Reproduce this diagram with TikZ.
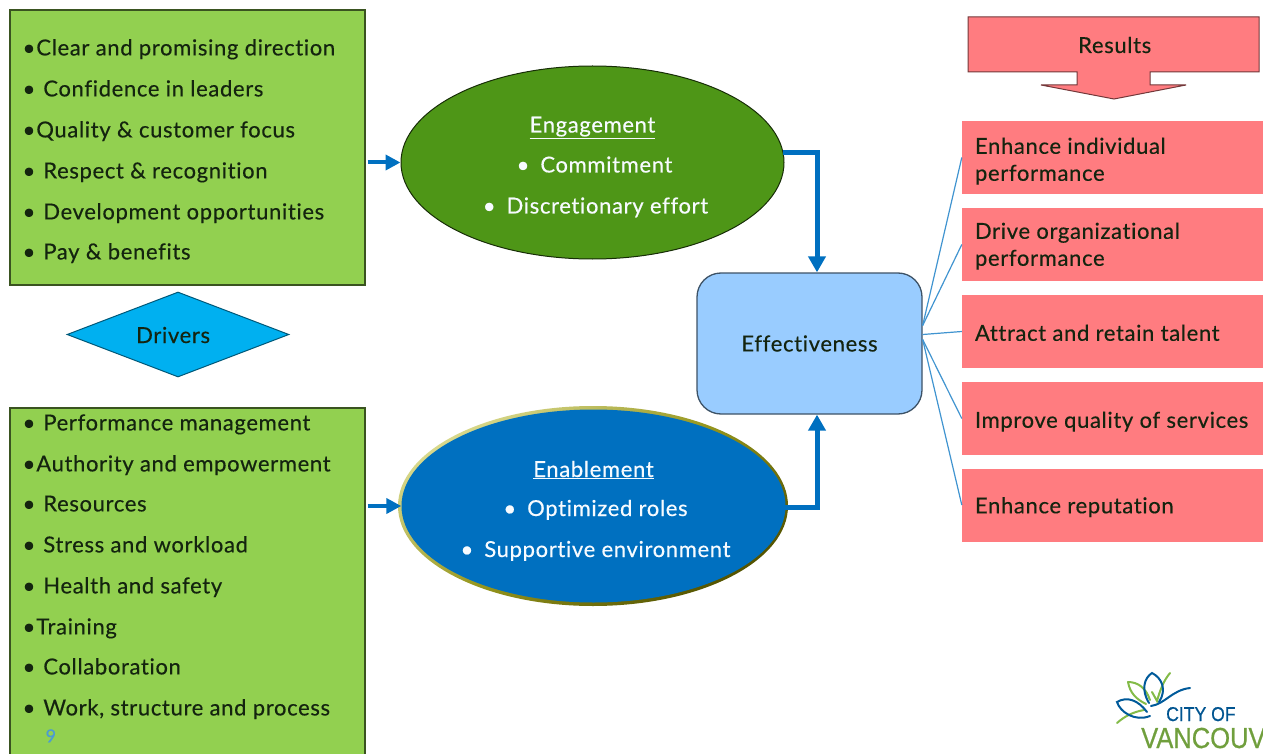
\documentclass[tikz,border=0pt]{standalone}
\usepackage{fontspec}
\setmainfont[LetterSpace=3,FakeBold=0.35,Ligatures=NoCommon]{Lato}
\newfontfamily\logofont[FakeStretch=0.88,FakeBold=0.6]{Liberation Sans}
\usetikzlibrary{arrows.meta,calc,shapes.geometric}
\definecolor{cgreen}{HTML}{92D050}
\definecolor{cred}{HTML}{FF7C80}
\definecolor{cblue}{HTML}{0070C0}
\definecolor{cleaf}{HTML}{4E9617}
\definecolor{csky}{HTML}{99CCFF}
\definecolor{ccyan}{HTML}{00B0F0}
\definecolor{cink}{HTML}{14240F}
\tikzstyle{ng} = [rectangle,draw=black!60!cgreen,fill=cgreen,line width=1.2pt,inner sep=0pt,minimum width=355,text=cink]
\tikzstyle{nr} = [rectangle,fill=cred,inner sep=0pt,minimum width=340,minimum height=73]
\tikzstyle{nt} = [anchor=base west,inner sep=0pt,text=cink,font=\fontsize{22}{26}\selectfont,align=left]
\tikzstyle{nw} = [anchor=base,inner sep=0pt,text=white!92!csky,font=\fontsize{22}{26}\selectfont]
\tikzstyle{ne} = [ellipse,inner sep=0pt,line width=1pt]
\tikzstyle{ar} = [draw=cblue,line width=5pt,-{Triangle[length=16pt,width=17pt]}]
\tikzstyle{lb} = [draw=cblue!75!white,line width=1.2pt]
\tikzstyle{lg} = [draw=black!10!cgreen,line width=2pt,line cap=round]
\tikzstyle{lv} = [draw=cblue!80!black,line width=2pt,line cap=round]
\begin{document}
\begin{tikzpicture}[x=1pt,y=-1pt]
  \useasboundingbox (0,0) rectangle (1263,754);
  \clip (0,0) rectangle (1263,754);
  % drivers
  \node[ng,minimum height=275](top) at (187.5,147.5) {};
  \node[ng,minimum height=352](bot) at (187.5,584) {};
  \node[diamond,draw=black!50!ccyan,fill=ccyan,line width=1pt,inner sep=0pt,minimum width=222,minimum height=85](drv) at (178,334.5) {};
  \node[nt](dl) at ($(drv)+(-42,8.5)$) {Drivers};
  \node[nt](a1) at ($(top.north west)+(13,46)$) {\textbullet\hspace{1pt}Clear and promising direction};
  \node[nt](a2) at ($(top.north west)+(13,87)$) {\textbullet\hspace{8pt}Confidence in leaders};
  \node[nt](a3) at ($(top.north west)+(13,128)$) {\textbullet\hspace{1pt}Quality \& customer focus};
  \node[nt](a4) at ($(top.north west)+(13,169)$) {\textbullet\hspace{8pt}Respect \& recognition};
  \node[nt](a5) at ($(top.north west)+(13,210)$) {\textbullet\hspace{8pt}Development opportunities};
  \node[nt](a6) at ($(top.north west)+(13,250)$) {\textbullet\hspace{8pt}Pay \& benefits};
  \node[nt](b1) at ($(bot.north west)+(13,23)$) {\textbullet\hspace{8pt}Performance management};
  \node[nt](b2) at ($(bot.north west)+(13,64)$) {\textbullet\hspace{1pt}Authority and empowerment};
  \node[nt](b3) at ($(bot.north west)+(13,104)$) {\textbullet\hspace{8pt}Resources};
  \node[nt](b4) at ($(bot.north west)+(13,145)$) {\textbullet\hspace{8pt}Stress and workload};
  \node[nt](b5) at ($(bot.north west)+(13,186)$) {\textbullet\hspace{8pt}Health and safety};
  \node[nt](b6) at ($(bot.north west)+(13,227)$) {\textbullet\hspace{1pt}Training};
  \node[nt](b7) at ($(bot.north west)+(13,267)$) {\textbullet\hspace{8pt}Collaboration};
  \node[nt](b8) at ($(bot.north west)+(13,308)$) {\textbullet\hspace{8pt}Work, structure and process};
  \node[nt,text=cblue!70!white,font=\fontsize{18}{20}\selectfont](pg) at ($(bot.north west)+(36,335)$) {9};
  % ellipses
  \node[ne,draw=black!70!cleaf,fill=cleaf,minimum width=383,minimum height=193](eng) at (592.5,162.5) {};
  \node[nw](e0) at ($(eng)+(0,-30)$) {\underline{Engagement}};
  \node[nw](e1) at ($(eng)+(2,10)$) {\textbullet\hspace{11pt}Commitment};
  \node[nw](e2) at ($(eng)+(3,51)$) {\textbullet\hspace{11pt}Discretionary effort};
  \node[ellipse,inner sep=0pt,top color=olive!30!white,bottom color=olive!65!black,shading angle=35,minimum width=390,minimum height=200](ens) at (593,506) {};
  \node[ellipse,inner sep=0pt,fill=cblue,minimum width=384,minimum height=193](ena) at (593.5,506) {};
  \node[nw](f0) at ($(ena)+(0,-29)$) {\underline{Enablement}};
  \node[nw](f1) at ($(ena)+(2,10)$) {\textbullet\hspace{11pt}Optimized roles};
  \node[nw](f2) at ($(ena)+(2,51)$) {\textbullet\hspace{11pt}Supportive environment};
  % effectiveness
  \node[rectangle,rounded corners=24pt,draw=black!60!csky,fill=csky,line width=1.3pt,inner sep=0pt,minimum width=225,minimum height=141,text=cink,font=\fontsize{22}{26}\selectfont](eff) at (809.5,343.5) {Effectiveness};
  % results
  \draw[draw=black!55!cred,fill=cred,line width=1pt] (968,17) -- (1259,17) -- (1259,72) -- (1150,72) -- (1150,85) -- (1186,85) -- (1114,99) -- (1041,85) -- (1077,85) -- (1077,72) -- (968,72) -- cycle;
  \node[nt](res) at (1078,53) {Results};
  \node[nr](r1) at (1132,157.5) {};
  \node[nr](r2) at (1132,244.5) {};
  \node[nr](r3) at (1132,331.5) {};
  \node[nr](r4) at (1132,418.5) {};
  \node[nr](r5) at (1132,505) {};
  \node[nt](t1) at ($(r1.north west)+(13,33)$) {Enhance individual};
  \node[nt](t1b) at ($(r1.north west)+(13,60)$) {performance};
  \node[nt](t2) at ($(r2.north west)+(13,31)$) {Drive organizational};
  \node[nt](t2b) at ($(r2.north west)+(13,58)$) {performance};
  \node[nt](t3) at ($(r3.north west)+(13,46)$) {Attract and retain talent};
  \node[nt](t4) at ($(r4.north west)+(13,46)$) {Improve quality of services};
  \node[nt](t5) at ($(r5.north west)+(13,45)$) {Enhance reputation};
  % connectors
  \draw[ar,-{Triangle[length=15pt,width=15pt]},line width=4pt,shorten <=2pt] (eng.west -| top.east) -- (eng.west);
  \draw[ar,-{Triangle[length=15pt,width=15pt]},line width=4pt,shorten <=2pt] (ena.west -| bot.east) -- (ena.west);
  \draw[ar] ($(eng.east)+(-2,-9.5)$) -| ($(eff.north)+(7.5,0)$);
  \draw[ar] ($(ena.east)+(-1,1)$) -| ($(eff.south)+(7.5,0)$);
  \draw[lb] ($(eff.east)+(0,-18)$) -- (r1.west);
  \draw[lb] ($(eff.east)+(0,-18)$) -- (r2.west);
  \draw[lb] ($(eff.east)+(0,-9)$) -- (r3.west);
  \draw[lb] ($(eff.east)+(0,-4)$) -- (r4.west);
  \draw[lb] ($(eff.east)+(0,-4)$) -- (r5.west);
  % logo
  \draw[lg] (1128,682) .. controls (1138,682) and (1146,688) .. (1150,700);
  \draw[lg] (1128,682) .. controls (1130,693) and (1136,699) .. (1146,704);
  \draw[lg] (1152,692) .. controls (1154,695) and (1155,698) .. (1157,701) .. controls (1160,690) and (1164,680) .. (1170,673);
  \draw[lg] (1117,723) .. controls (1125,716) and (1133,712) .. (1144,710);
  \draw[lv] (1149,703) .. controls (1141,690) and (1144,678) .. (1152,673) .. controls (1162,678) and (1167,690) .. (1159,702);
  \draw[lv] (1151,706) .. controls (1165,704) and (1172,690) .. (1190,688);
  \draw[lv] (1147,712) .. controls (1138,700) and (1127,696) .. (1117,702) .. controls (1120,712) and (1135,722) .. (1150,716);
  \node[anchor=base west,inner sep=0pt,text=cblue!75!black,font=\logofont\fontsize{20}{22}\selectfont](lc) at (1166,721) {CITY OF};
  \node[anchor=base west,inner sep=0pt,text=black!10!cgreen!85!black,font=\logofont\fontsize{29}{32}\selectfont](lv) at (1141,748) {VANCOUV};
\end{tikzpicture}
\end{document}
